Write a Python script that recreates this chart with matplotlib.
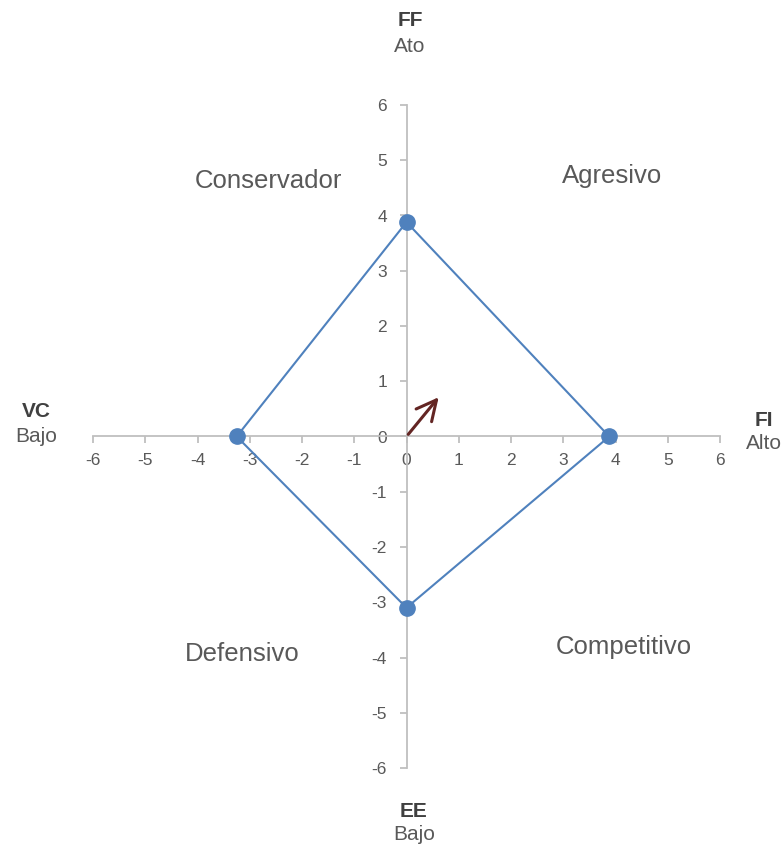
import numpy as np
import matplotlib.pyplot as plt

plt.rcParams['font.family'] = ['Liberation Sans', 'DejaVu Sans']
plt.rcParams['axes.unicode_minus'] = False

# PEYEA values: FI (x+), VC (x-), FF (y+), EE (y-)
factors = ['FI', 'FF', 'VC', 'EE']
poly_x = [3.88, 0, -3.25, 0]
poly_y = [0, 3.88, 0, -3.1]
vector = (0.65, 0.75)

ticks = list(range(-6, 7))
quadrants = ['Agresivo', 'Conservador', 'Defensivo', 'Competitivo']

blue = '#4F81BD'
grey = '#BFBFBF'
txt = '#595959'

fig = plt.figure(figsize=(7.84, 8.46), dpi=100)
ax = fig.add_axes([93 / 784, 78 / 846, 627 / 784, 663 / 846])
ax.set_xlim(-6, 6)
ax.set_ylim(-6, 6)

for s in ['top', 'right']:
    ax.spines[s].set_visible(False)
for s in ['left', 'bottom']:
    ax.spines[s].set_position('zero')
    ax.spines[s].set_color(grey)
    ax.spines[s].set_linewidth(1.3)

ax.set_xticks(ticks)
ax.set_yticks(ticks)
ax.tick_params(colors=grey, labelcolor=txt, labelsize=12.5, length=5, width=1.3)
ax.tick_params(axis='x', pad=7)
ax.tick_params(axis='y', pad=9)

xs = poly_x + poly_x[:1]
ys = poly_y + poly_y[:1]
ax.plot(xs, ys, color=blue, lw=1.5, zorder=3)
ax.plot(poly_x, poly_y, 'o', color=blue, ms=11, zorder=4, clip_on=False)

ax.annotate('', xy=vector, xytext=(0, 0),
            arrowprops=dict(arrowstyle='->', color='#632523', lw=2.2,
                            mutation_scale=36))

# quadrant names
qpos = [(3.94, 4.71), (-2.65, 4.62), (-3.15, -3.94), (4.16, -3.81)]
for name, (qx, qy) in zip(quadrants, qpos):
    ax.text(qx, qy, name, fontsize=18.5, color=txt, ha='center', va='center')

# axis titles
def axis_title(px, py, bold, sub, dy):
    fig.text(px / 784, 1 - py / 846, bold, fontsize=15, fontweight='bold',
             color='#404040', ha='center', va='center')
    fig.text(px / 784, 1 - (py + dy) / 846, sub, fontsize=15,
             color=txt, ha='center', va='center')

axis_title(410, 21, 'FF', 'Ato', 25)
axis_title(36, 411, 'VC', 'Bajo', 25)
axis_title(764, 420, 'FI', 'Alto', 23)
axis_title(414, 811, 'EE', 'Bajo', 23)

fig.savefig('out.png', dpi=100)
